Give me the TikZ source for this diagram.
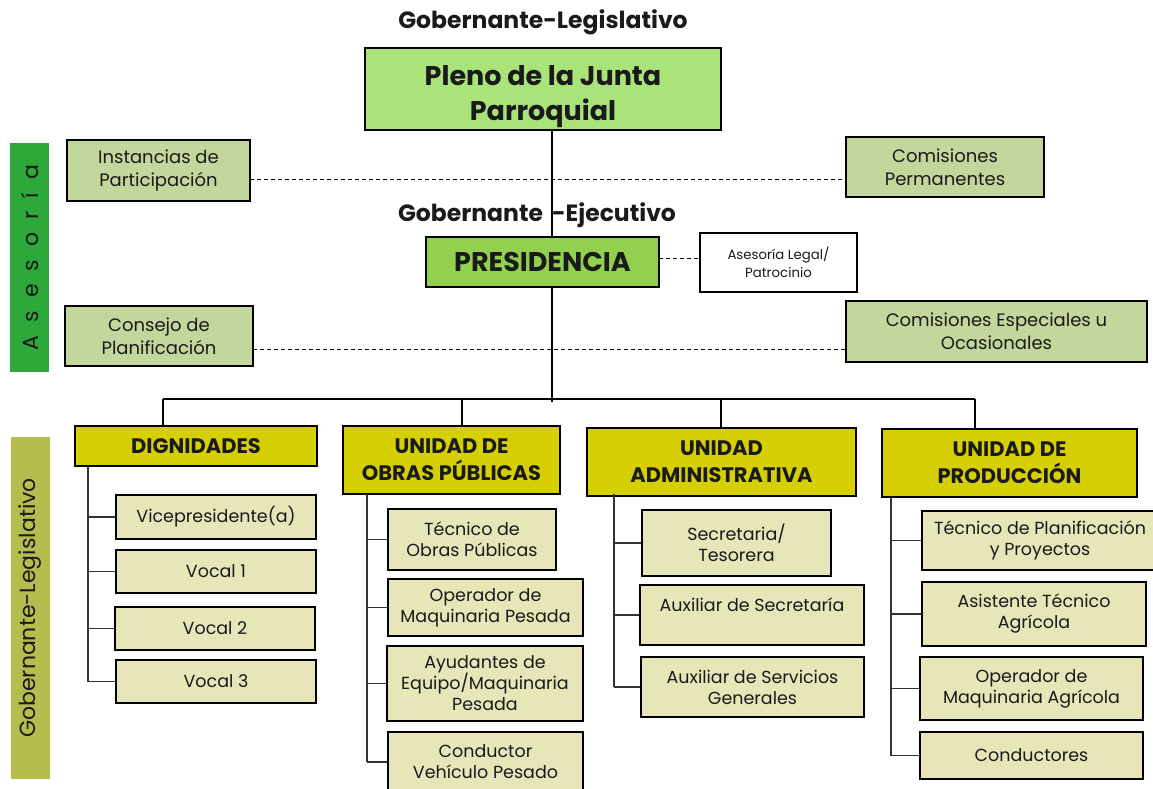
\documentclass[tikz,border=0pt]{standalone}
\usepackage{fontspec}
\setmainfont{Poppins}
\usetikzlibrary{calc}
\definecolor{txt}{HTML}{1A1A1A}
\definecolor{plenoc}{HTML}{A9E37A}
\definecolor{presc}{HTML}{92D050}
\definecolor{advc}{HTML}{C3D69B}
\definecolor{asesbar}{HTML}{2EA83A}
\definecolor{glbar}{HTML}{B5BD4F}
\definecolor{unitc}{HTML}{D6CF04}
\definecolor{childc}{HTML}{E6E6B9}
\definecolor{brk}{HTML}{333333}
\newcommand\lsp{\hspace{13pt}}
\tikzset{
  box/.style={draw=black, line width=2.6pt, rectangle, align=center, inner sep=1pt, text=txt},
  plenobox/.style={box, fill=plenoc, font=\bfseries\fontsize{27}{35}\selectfont},
  presbox/.style={box, fill=presc, font=\bfseries\fontsize{27}{30}\selectfont},
  advbox/.style={box, fill=advc, font=\fontsize{18}{23}\selectfont},
  legalbox/.style={box, fill=white, line width=2.2pt, font=\fontsize{13.3}{18}\selectfont},
  unitbox/.style={box, fill=unitc, font=\bfseries\fontsize{21}{27}\selectfont},
  childbox/.style={box, fill=childc, font=\fontsize{17.5}{21}\selectfont},
  bar/.style={rectangle, inner sep=0pt, text=txt},
  title/.style={text=txt, font=\bfseries\fontsize{23.5}{28}\selectfont},
  main/.style={draw=black, line width=2.4pt},
  dashline/.style={draw=black, line width=1pt, dash pattern=on 4pt off 3pt},
  branch/.style={draw=brk, line width=1.3pt},
}
\begin{document}
\begin{tikzpicture}[x=1pt,y=-1pt]
\useasboundingbox (0,0) rectangle (1153,789);

% side bars
\node[bar, fill=asesbar, minimum width=39pt, minimum height=229pt] (asesbar) at (29.5,257.5) {};
\node[rotate=90, text=txt, font=\fontsize{22}{26}\selectfont] (asestxt) at (asesbar) {A\lsp s\lsp e\lsp s\lsp o\lsp r\lsp í\lsp a};
\node[bar, fill=glbar, minimum width=39pt, minimum height=342pt] (glbar) at (30.5,608) {};
\node[rotate=90, text=txt, font=\fontsize{22}{26}\selectfont] (gltxt) at (glbar) {Gobernante-Legislativo};

% titles
\node[title] (t1) at (543,22) {Gobernante-Legislativo};

% trunk coordinate
\coordinate (trunk) at (552,402);

% top boxes
\node[plenobox, minimum width=356pt, minimum height=82pt] (pleno) at (543,89) {\rule{0pt}{36pt}Pleno de la Junta\\Parroquial};
\node[presbox, minimum width=233pt, minimum height=50pt] (pres) at (542.5,262) {PRESIDENCIA};
\node[legalbox, minimum width=157pt, minimum height=59pt] (legal) at (778.5,262.5) {Asesoría Legal/\\Patrocinio};

\node[advbox, minimum width=183pt, minimum height=61pt] (inst) at (158.5,170.5) {Instancias de\\Participación};
\node[advbox, minimum width=198pt, minimum height=60pt] (cperm) at (945,167) {Comisiones\\Permanentes};
\node[advbox, minimum width=188pt, minimum height=60pt] (consejo) at (159,336) {Consejo de\\Planificación};
\node[advbox, minimum width=301pt, minimum height=61pt] (cesp) at (996.5,331.5) {Comisiones Especiales u\\Ocasionales};

% trunk lines
\draw[main] (pleno.south -| trunk) -- (pres.north -| trunk);
\draw[main] (pres.south -| trunk) -- (trunk);
\node[title] (t2) at (537,215) {Gobernante\hspace{9pt}-Ejecutivo};

% dashed advisory lines
\coordinate (d1) at (250,179);
\draw[dashline] (d1) -- (d1 -| cperm.west);
\coordinate (d2) at (253,349);
\draw[dashline] (d2) -- (d2 -| cesp.west);
\coordinate (d3) at (659,258);
\draw[dashline] (d3) -- (d3 -| legal.west);

% unit headers
\node[unitbox, minimum width=242pt, minimum height=40pt] (dign) at (196,446) {DIGNIDADES};
\node[unitbox, minimum width=217pt, minimum height=68pt] (obras) at (451.5,460) {UNIDAD DE\\OBRAS PÚBLICAS};
\node[unitbox, minimum width=269pt, minimum height=68pt] (admin) at (721.5,462) {UNIDAD\\ADMINISTRATIVA};
\node[unitbox, minimum width=255pt, minimum height=68pt] (prod) at (1009.5,463) {UNIDAD DE\\PRODUCCIÓN};

% bus
\coordinate (b1) at (163,399);
\coordinate (b2) at (462,399);
\coordinate (b3) at (721,399);
\coordinate (b4) at (975,399);
\draw[main] (b1) -- (b4);
\draw[main] (b1) -- (b1 |- dign.north);
\draw[main] (b2) -- (b2 |- obras.north);
\draw[main] (b3) -- (b3 |- admin.north);
\draw[main] (b4) -- (b4 |- prod.north);

% Dignidades children
\node[childbox, minimum width=200pt, minimum height=44pt] (vice) at (216,517) {Vicepresidente(a)};
\node[childbox, minimum width=200pt, minimum height=43pt] (voc1) at (216,571.5) {Vocal 1};
\node[childbox, minimum width=200pt, minimum height=43pt] (voc2) at (215,628.5) {Vocal 2};
\node[childbox, minimum width=200pt, minimum height=43pt] (voc3) at (216,681.5) {Vocal 3};
\coordinate (g1) at (88,466);
\draw[branch] (g1) -- (g1 |- voc3.west);
\foreach \c in {vice,voc1,voc2,voc3} \draw[branch] (g1 |- \c.west) -- (\c.west);

% Obras children
\node[childbox, minimum width=168pt, minimum height=61pt] (tecob) at (472,539.5) {Técnico de\\Obras Públicas};
\node[childbox, minimum width=195pt, minimum height=57pt] (opmaq) at (485.5,607.5) {Operador de\\Maquinaria Pesada};
\node[childbox, minimum width=196pt, minimum height=75pt] (ayud) at (485,683.5) {Ayudantes de\\Equipo/Maquinaria\\Pesada};
\node[childbox, minimum width=195pt, minimum height=60pt] (cond) at (485.5,762) {Conductor\\Vehículo Pesado};
\coordinate (g2) at (367,494);
\draw[branch] (g2) -- (g2 |- cond.west);
\foreach \c in {tecob,opmaq,ayud,cond} \draw[branch] (g2 |- \c.west) -- (\c.west);

% Admin children
\node[childbox, minimum width=189pt, minimum height=66pt] (secr) at (736.5,543) {Secretaria/\\Tesorera};
\node[childbox, minimum width=224pt, minimum height=60pt] (auxsec) at (752,615) {Auxiliar de Secretaría\\\mbox{}};
\node[childbox, minimum width=223pt, minimum height=60pt] (auxserv) at (752.5,687) {Auxiliar de Servicios\\Generales};
\coordinate (g3) at (614,494);
\draw[branch] (g3) -- (g3 |- auxserv.west);
\foreach \c in {secr,auxsec,auxserv} \draw[branch] (g3 |- \c.west) -- (\c.west);

% Produccion children
\node[childbox, minimum width=236pt, minimum height=59pt] (tecpl) at (1040,540.5) {Técnico de Planificación\\y Proyectos};
\node[childbox, minimum width=224pt, minimum height=64pt] (asist) at (1034,614) {Asistente Técnico\\Agrícola};
\node[childbox, minimum width=223pt, minimum height=63pt] (opagr) at (1031.5,688.5) {Operador de\\Maquinaria Agrícola};
\node[childbox, minimum width=223pt, minimum height=47pt] (condu) at (1031.5,755.5) {Conductores};
\coordinate (g4) at (891,498);
\draw[branch] (g4) -- (g4 |- condu.west);
\foreach \c in {tecpl,asist,opagr,condu} \draw[branch] (g4 |- \c.west) -- (\c.west);
\end{tikzpicture}
\end{document}
